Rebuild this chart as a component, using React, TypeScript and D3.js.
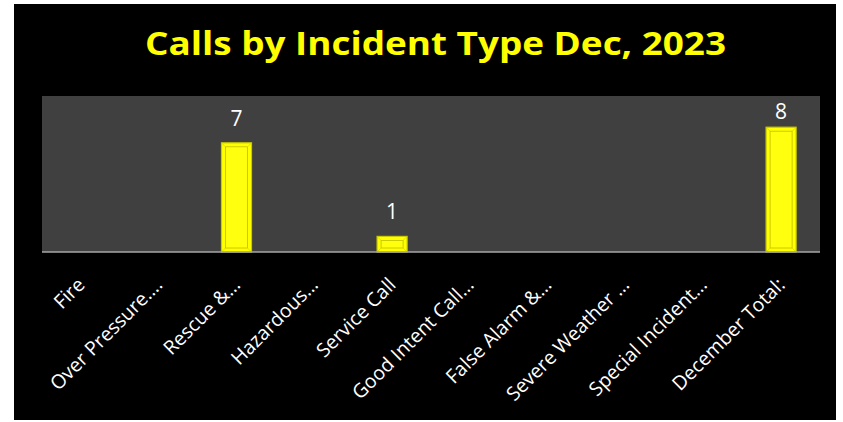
import React from "react";
import * as d3 from "d3";

const categories = [
  "Fire",
  "Over Pressure….",
  "Rescue &…",
  "Hazardous…",
  "Service Call",
  "Good Intent Call…",
  "False Alarm &…",
  "Severe Weather …",
  "Special Incident…",
  "December Total:",
];
const values = [0, 0, 7, 0, 1, 0, 0, 0, 0, 8];
const yDomain = [0, 10];
const title = "Calls by Incident Type Dec, 2023";

const W = 843;
const H = 422;
const plot = { left: 42, right: 820, top: 96, bottom: 252 };

export default function App() {
  const x = d3
    .scaleBand<string>()
    .domain(categories)
    .range([plot.left, plot.right])
    .paddingInner(0.614)
    .paddingOuter(0.307);
  const y = d3.scaleLinear().domain(yDomain).range([plot.bottom, plot.top]);
  const bw = x.bandwidth();
  const font = "'Open Sans', 'Noto Sans', sans-serif";

  return (
    <svg
      width={W}
      height={H}
      style={{ position: "absolute", left: 0, top: 0 }}
      viewBox={`0 0 ${W} ${H}`}
    >
      <rect x={0} y={0} width={W} height={H} fill="#ffffff" />
      <rect x={14} y={4} width={822} height={416} fill="#000000" />
      <text
        x={435.5}
        y={55}
        textAnchor="middle"
        fill="#FFFF00"
        fontFamily={font}
        fontWeight="bold"
        fontSize={33}
        textLength={581}
        lengthAdjust="spacingAndGlyphs"
      >
        {title}
      </text>
      <rect
        x={plot.left}
        y={plot.top}
        width={plot.right - plot.left}
        height={plot.bottom - plot.top}
        fill="#404040"
      />
      {categories.map((c, i) => {
        const v = values[i];
        if (v <= 0) return null;
        const bx = x(c)!;
        const by = y(v);
        const bh = y(0) - by;
        return (
          <g key={c}>
            <rect x={bx} y={by} width={bw} height={bh} fill="#FFFF00" stroke="#C9C900" strokeWidth={1.2} />
            <rect
              x={bx + 4}
              y={by + 4}
              width={Math.max(0, bw - 8)}
              height={Math.max(0, bh - 8)}
              fill="#FFFF10"
              stroke="#B8B800"
              strokeWidth={0.8}
              opacity={0.9}
            />
            <line x1={bx + 1} y1={by + 1} x2={bx + 4} y2={by + 4} stroke="#D8D800" strokeWidth={0.8} />
            <line x1={bx + bw - 1} y1={by + 1} x2={bx + bw - 4} y2={by + 4} stroke="#D8D800" strokeWidth={0.8} />
            <line x1={bx + 1} y1={by + bh - 1} x2={bx + 4} y2={by + bh - 4} stroke="#D8D800" strokeWidth={0.8} />
            <line x1={bx + bw - 1} y1={by + bh - 1} x2={bx + bw - 4} y2={by + bh - 4} stroke="#D8D800" strokeWidth={0.8} />
            <text
              x={bx + bw / 2}
              y={Math.max(by - 17, plot.top + 23)}
              textAnchor="middle"
              fill="#ffffff"
              fontFamily={font}
              fontSize={21}
            >
              {v}
            </text>
          </g>
        );
      })}
      <line
        x1={plot.left}
        x2={plot.right}
        y1={plot.bottom}
        y2={plot.bottom}
        stroke="#A6A6A6"
        strokeWidth={1.5}
      />
      {categories.map((c) => {
        const cx = x(c)! + bw / 2;
        return (
          <text
            key={"l" + c}
            transform={`translate(${cx + 5},${plot.bottom + 34}) rotate(-45)`}
            textAnchor="end"
            fill="#ffffff"
            fontFamily={font}
            fontSize={19.5}
          >
            {c}
          </text>
        );
      })}
    </svg>
  );
}
